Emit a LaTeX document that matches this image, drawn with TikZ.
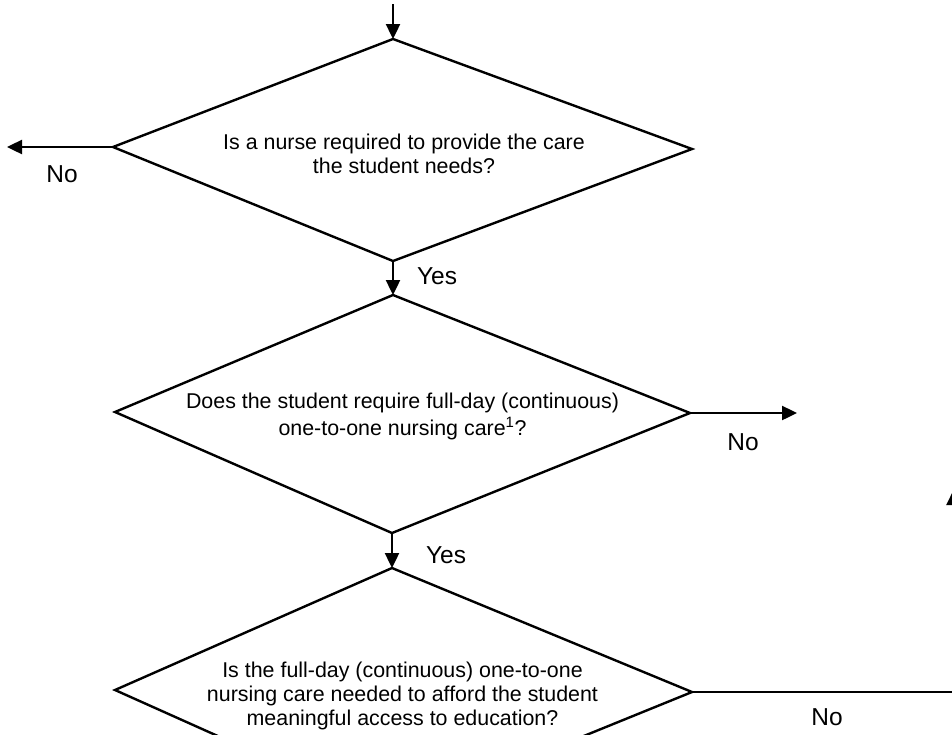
\documentclass[tikz,border=0pt]{standalone}
\usepackage{fontspec}
\setmainfont{Liberation Sans}
\usetikzlibrary{arrows.meta}
\begin{document}
\begin{tikzpicture}[x=1pt,y=-1pt,
  edge/.style={line width=2.4pt, line join=miter},
  flow/.style={line width=2.4pt, -{Triangle[length=15pt,width=14pt]}},
  qtext/.style={align=center, font=\fontsize{21.4}{24}\selectfont, inner sep=0pt},
  lbl/.style={font=\fontsize{24.5}{28}\selectfont, inner sep=0pt}]
\useasboundingbox (0,0) rectangle (952,734);
% diamond 1
\coordinate (d1t) at (393,39);
\coordinate (d1r) at (692,149);
\coordinate (d1b) at (393,261);
\coordinate (d1l) at (113,147);
\draw[edge] (d1t) -- (d1r) -- (d1b) -- (d1l) -- cycle;
\node[qtext] (q1) at (404,153.5) {Is a nurse required to provide the care\\the student needs?};
% diamond 2
\coordinate (d2t) at (393,295);
\coordinate (d2r) at (690,413);
\coordinate (d2b) at (392,533);
\coordinate (d2l) at (115,412);
\draw[edge] (d2t) -- (d2r) -- (d2b) -- (d2l) -- cycle;
\node[qtext] (q2) at (402.5,416) {Does the student require full-day (continuous)\\[3pt]one-to-one nursing care\textsuperscript{1}?};
% diamond 3
\coordinate (d3t) at (392,568);
\coordinate (d3r) at (692,692);
\coordinate (d3b) at (392,814);
\coordinate (d3l) at (115,690);
\draw[edge] (d3t) -- (d3r) -- (d3b) -- (d3l) -- cycle;
\node[qtext] (q3) at (402.5,696) {Is the full-day (continuous) one-to-one\\nursing care needed to afford the student\\meaningful access to education?};
% connectors
\coordinate (start) at (393,4);
\coordinate (noL) at (7,147);
\coordinate (noR) at (797,413);
\coordinate (corner) at (953.5,692);
\coordinate (upEnd) at (953.5,490);
\draw[flow] (start) -- (d1t);
\draw[flow] (d1l) -- (noL);
\draw[flow] (d1b) -- (d2t);
\draw[flow] (d2r) -- (noR);
\draw[flow] (d2b) -- (d3t);
\draw[flow] (d3r) -- (corner) -- (upEnd);
% labels
\node[lbl] (l1) at (62,174) {No};
\node[lbl] (l2) at (437,276) {Yes};
\node[lbl] (l3) at (743,442) {No};
\node[lbl] (l4) at (446,555) {Yes};
\node[lbl] (l5) at (827,717) {No};
\end{tikzpicture}
\end{document}
